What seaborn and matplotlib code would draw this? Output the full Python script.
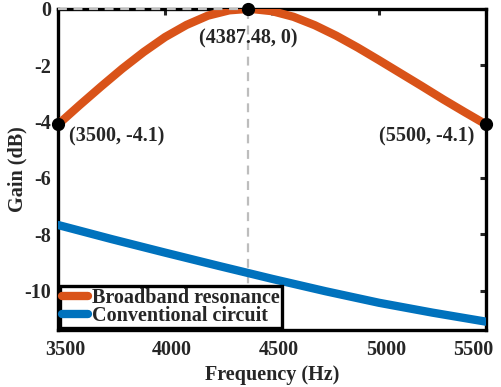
import numpy as np
import pandas as pd
import seaborn as sns
import matplotlib.pyplot as plt
from matplotlib.transforms import ScaledTranslation

sns.set_style("white")
plt.rcParams['font.family'] = ['Liberation Serif', 'DejaVu Serif']
plt.rcParams['font.weight'] = 'bold'
plt.rcParams['axes.unicode_minus'] = False

# frequencies (Hz) and gains (dB)
freq_res = [3500, 3600, 3700, 3800, 3900, 4000, 4100, 4200, 4300, 4387.48,
            4400, 4500, 4600, 4700, 4800, 4900, 5000, 5100, 5200, 5300, 5400, 5500]
gain_res = [-4.10, -3.42, -2.76, -2.12, -1.53, -1.00, -0.57, -0.24, -0.05, 0.0,
            0.0, -0.08, -0.28, -0.58, -0.95, -1.37, -1.82, -2.28, -2.74, -3.21, -3.66, -4.10]

freq_conv = [3500, 3750, 4000, 4250, 4500, 4750, 5000, 5250, 5500]
gain_conv = [-7.67, -8.17, -8.65, -9.12, -9.58, -10.02, -10.43, -10.78, -11.10]

peak_f, peak_g = 4387.48, 0.0
mark_f = [3500, 4387.48, 5500]
mark_g = [-4.1, 0.0, -4.1]
mark_txt = ['(3500, -4.1)', '(4387.48, 0)', '(5500, -4.1)']

xticks = [3500, 4000, 4500, 5000, 5500]
yticks = [0, -2, -4, -6, -8, -10]

df_res = pd.DataFrame({'f': freq_res, 'g': gain_res})
df_conv = pd.DataFrame({'f': freq_conv, 'g': gain_conv})

FS = 14.5

fig = plt.figure(figsize=(5.01, 3.87), dpi=100)
ax = fig.add_axes([0.116, 0.147, 0.854, 0.830])

# guide lines to the peak
ax.axvline(peak_f, color='#bdbdbd', lw=1.6, ls=(0, (4, 3)), zorder=1)
ax.plot([3500, peak_f], [peak_g, peak_g], color='#bdbdbd', lw=1.6,
        ls=(0, (4, 3)), zorder=5, clip_on=False)

sns.lineplot(data=df_res, x='f', y='g', ax=ax, color='#D95319', lw=6,
             label='Broadband resonance', solid_capstyle='round', zorder=3,
             sort=False)
sns.lineplot(data=df_conv, x='f', y='g', ax=ax, color='#0072BD', lw=6,
             label='Conventional circuit', solid_capstyle='round', zorder=3)

ax.plot(mark_f, mark_g, 'o', color='black', ms=8.5, zorder=6, clip_on=False)
ax.annotate(mark_txt[0], (mark_f[0], mark_g[0]), xytext=(8, -9),
            textcoords='offset points', ha='left', va='center', fontsize=FS,
            fontweight='bold')
ax.annotate(mark_txt[1], (mark_f[1], mark_g[1]), xytext=(0, -21),
            textcoords='offset points', ha='center', va='center', fontsize=FS,
            fontweight='bold')
ax.annotate(mark_txt[2], (mark_f[2], mark_g[2]), xytext=(-8, -9),
            textcoords='offset points', ha='right', va='center', fontsize=FS,
            fontweight='bold')

ax.set_xlim(3500, 5500)
ax.set_ylim(-11.4, 0)
ax.set_xticks(xticks)
ax.set_yticks(yticks)
ax.tick_params(direction='in', length=4, width=2.2, labelsize=FS,
               top=True, right=True)
ax.tick_params(axis='x', pad=7)
ax.tick_params(axis='y', pad=5)
for s in ax.spines.values():
    s.set_linewidth(2.4)
    s.set_color('black')

# x labels sit a little to the right of their ticks, the last one pulled in
shifts = [7, 7, 7, 7, -13]
for lab, dx in zip(ax.get_xticklabels(), shifts):
    lab.set_transform(lab.get_transform() +
                      ScaledTranslation(dx / 100, 0, fig.dpi_scale_trans))

ax.set_xlabel('Frequency (Hz)', fontsize=FS, fontweight='bold', labelpad=4)
ax.set_ylabel('Gain (dB)', fontsize=FS, fontweight='bold', labelpad=-2)

leg = ax.legend(loc='lower left', fontsize=FS, frameon=True, fancybox=False,
                borderpad=0.1, labelspacing=-0.1, handlelength=1.3,
                handletextpad=0.2, borderaxespad=0.1)
leg.get_frame().set_edgecolor('black')
leg.get_frame().set_linewidth(2.4)
leg.get_frame().set_alpha(1)
for h in leg.get_lines():
    h.set_linewidth(6)
    h.set_solid_capstyle('round')

fig.savefig('out.png', dpi=100)
